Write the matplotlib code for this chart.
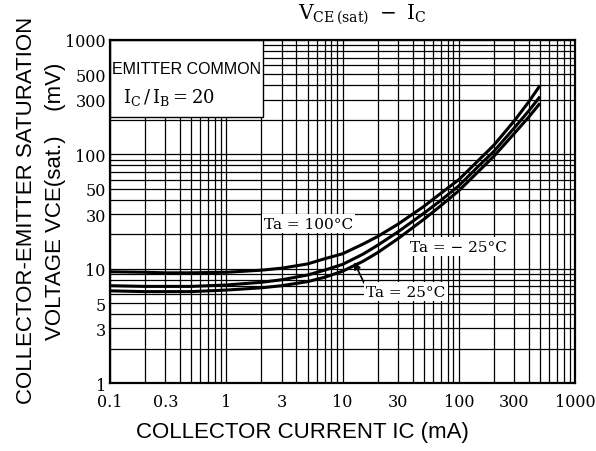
import matplotlib
matplotlib.use("Agg")
import matplotlib.pyplot as plt
from matplotlib.ticker import FixedLocator, NullFormatter, LogLocator
from matplotlib.patches import Rectangle

# --- data (IC in mA, VCE(sat) in mV) ---
ic = [0.1, 0.2, 0.3, 0.5, 1, 2, 3, 5, 7, 10, 15, 20, 30, 50, 70, 100, 150, 200, 300, 400, 500]
vce_100 = [9.4, 9.3, 9.2, 9.2, 9.3, 9.7, 10.1, 11.0, 12.2, 13.5, 16.4, 19.1, 24.5, 35, 45.6,
           60, 90, 120, 196, 288, 400]
vce_25 = [7.1, 7.0, 7.0, 7.0, 7.2, 7.6, 8.0, 8.8, 9.7, 10.9, 13.4, 16.0, 21, 30.5, 39.5,
          53, 80, 106, 170, 240, 320]
vce_m25 = [6.4, 6.3, 6.3, 6.3, 6.5, 6.8, 7.1, 7.7, 8.4, 9.5, 11.6, 13.8, 18.3, 27, 35.5,
           48, 72, 96, 152, 212, 280]

x_ticks = [0.1, 0.3, 1, 3, 10, 30, 100, 300, 1000]
x_labels = ["0.1", "0.3", "1", "3", "10", "30", "100", "300", "1000"]
y_ticks = [1, 3, 5, 10, 30, 50, 100, 300, 500, 1000]
y_labels = ["1", "3", "5", "10", "30", "50", "100", "300", "500", "1000"]

SERIF = "DejaVu Serif"
SANS = "Liberation Sans"
plt.rcParams["mathtext.fontset"] = "dejavuserif"

fig = plt.figure(figsize=(5.96, 4.52), dpi=100)
ax = fig.add_axes([0.1846, 0.1504, 0.7802, 0.7589])

ax.set_xscale("log")
ax.set_yscale("log")
ax.set_xlim(0.1, 1000)
ax.set_ylim(1, 1000)

# grid like the printed log paper
ax.xaxis.set_minor_locator(LogLocator(base=10, subs=range(2, 10)))
ax.yaxis.set_minor_locator(LogLocator(base=10, subs=range(2, 10)))
ax.grid(True, which="both", color="black", lw=0.9)
ax.set_axisbelow(True)

ax.xaxis.set_major_locator(FixedLocator(x_ticks))
ax.yaxis.set_major_locator(FixedLocator(y_ticks))
ax.set_xticklabels(x_labels, family=SERIF, fontsize=11.5)
ax.set_yticklabels(y_labels, family=SERIF, fontsize=11.5)
ax.xaxis.set_minor_formatter(NullFormatter())
ax.yaxis.set_minor_formatter(NullFormatter())
ax.tick_params(axis="x", which="both", length=0, pad=7)
ax.tick_params(axis="y", which="both", length=0, pad=3)
for s in ax.spines.values():
    s.set_linewidth(1.6)

# white box for the condition text
ax.add_patch(Rectangle((0.1, 210), 2.07 - 0.1, 1000 - 210, facecolor="white",
                       edgecolor="black", lw=1.0, zorder=2))
ax.text(0.104, 560, "EMITTER COMMON", family=SANS, fontsize=11.5, va="center", zorder=3)
ax.text(0.13, 320, r"$\mathrm{I_C\,/\,I_B=20}$", fontsize=13, va="center", zorder=3)

# curves
for v in (vce_100, vce_25, vce_m25):
    ax.plot(ic, v, color="black", lw=2.2, zorder=4, solid_capstyle="butt")

box = dict(facecolor="white", edgecolor="none", pad=1.5)
ax.text(5.1, 24.8, "Ta = 100°C", family=SERIF, fontsize=11, ha="center", va="center",
        bbox=box, zorder=5)
ax.text(100, 15.6, "Ta = − 25°C", family=SERIF, fontsize=11, ha="center", va="center",
        bbox=box, zorder=5)
ax.annotate("Ta = 25°C", xy=(12.6, 11.4), xytext=(35, 6.3), family=SERIF, fontsize=11,
            ha="center", va="center", bbox=box, zorder=5,
            arrowprops=dict(arrowstyle="-|>", color="black", lw=1.2,
                            shrinkA=0, shrinkB=0, mutation_scale=10,
                            relpos=(0.0, 0.8)))

fig.text(0.608, 0.966, r"$\mathrm{V_{CE\,(sat)}\ -\ I_C}$", fontsize=14.5, ha="center", va="center")
fig.text(0.508, 0.044, "COLLECTOR CURRENT IC (mA)", family=SANS, fontsize=16,
         ha="center", va="center")
fig.text(0.045, 0.535, "COLLECTOR-EMITTER SATURATION", family=SANS, fontsize=16,
         rotation=90, ha="center", va="center")
fig.text(0.093, 0.555, "VOLTAGE VCE(sat.)    (mV)", family=SANS, fontsize=16,
         rotation=90, ha="center", va="center")

fig.savefig("out.png", dpi=100, facecolor="white")
